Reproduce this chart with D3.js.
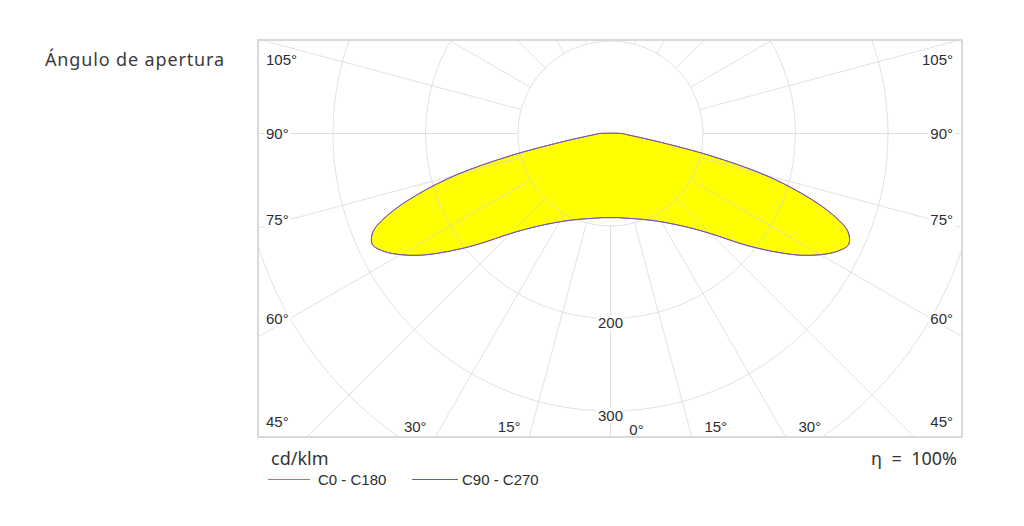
<!DOCTYPE html>
<html><head><meta charset="utf-8">
<script src="https://cdn.jsdelivr.net/npm/d3@7"></script>
<style>body{margin:0;background:#fff;overflow:hidden}</style>
</head><body>
<svg id="c" width="1024" height="526"></svg>
<script>
// ---- data ----
const gammaAngles  = [0, 5, 10, 15, 20, 25, 30, 35, 40, 45, 50, 52.5, 55, 57.5, 60, 62.5, 65, 67.5, 70, 72.5, 75, 77.5, 80, 82.5, 85, 87.5, 90];
const intensityC0  = [91, 91.3, 92.9, 95.3, 98.7, 103.5, 110.3, 119.7, 133, 153, 186, 205, 225, 245, 262, 276, 284, 278, 255, 218, 172, 110, 56, 31, 20, 15, 12];
const intensityC90 = [91, 91.3, 92.9, 95.3, 98.7, 103.5, 110.3, 119.7, 133, 153, 186, 205, 225, 245, 262, 276, 284, 278, 255, 218, 172, 110, 56, 31, 20, 15, 12];
const radialTicks = [100, 200, 300, 400];
const radialTickLabels = ["200", "300"];
const gridAngles = [0, 15, 30, 45, 60, 75, 90, 105, 120, 135, 150, 165, 180];
const sideLabelAngles = [45, 60, 75, 90, 105];
const bottomLabelAngles = [0, 15, 30];
const seriesNames = ["C0 - C180", "C90 - C270"];
const seriesColors = ["#e06060", "#5c5cc8"];
const titleText = "Ángulo de apertura";
const unitText = "cd/klm";
const etaText = "η = 100%";

// ---- layout ----
const svg = d3.select("#c");
const box = {x: 258, y: 40, w: 704, h: 397};
const cx = 610.5, cy = 133.5;
const r = d3.scaleLinear().domain([0, 100]).range([0, 92.5]);
const rad = d => d * Math.PI / 180;
const labelFont = "'Liberation Sans', Arial, sans-serif";
const textFont = "'Noto Sans', sans-serif";
const textColor = "#2e2e2e";

function fitLetters(sel, w) {
  const n = sel.text().length;
  const cur = sel.node().getComputedTextLength();
  sel.style("letter-spacing", ((w - cur) / n) + "px");
}
function fitWords(sel, w) {
  const n = sel.text().split(" ").length - 1;
  const cur = sel.node().getComputedTextLength();
  sel.style("word-spacing", ((w - cur) / n) + "px");
}

svg.append("defs").append("clipPath").attr("id", "bx")
  .append("rect").attr("x", box.x).attr("y", box.y).attr("width", box.w).attr("height", box.h);

// title
const title = svg.append("text").attr("x", 45).attr("y", 66)
  .style("font-family", textFont).style("font-size", "18px")
  .attr("fill", "#3c3c3c").text(titleText);
fitLetters(title, 180);

const plot = svg.append("g").attr("clip-path", "url(#bx)");
const g = plot.append("g").attr("transform", `translate(${cx},${cy})`);

// curve points: right side 90->0, left side 0->90 (lineRadial angle: 0 = up, clockwise)
function pts(vals) {
  const p = [];
  for (let i = gammaAngles.length - 1; i >= 0; i--) p.push({a: Math.PI - rad(gammaAngles[i]), v: vals[i]});
  for (let i = 1; i < gammaAngles.length; i++) p.push({a: Math.PI + rad(gammaAngles[i]), v: vals[i]});
  return p;
}
const line = d3.lineRadial().angle(d => d.a).radius(d => r(d.v)).curve(d3.curveCatmullRomClosed.alpha(0.5));
const series = [intensityC0, intensityC90];

// fills
series.forEach(s => g.append("path").attr("d", line(pts(s))).attr("fill", "#ffff00").attr("stroke", "none"));

// grid on top of fill, semi transparent
const grid = g.append("g").attr("fill", "none").attr("stroke", "#d4d4d4").attr("stroke-opacity", 0.7).attr("stroke-width", 1);
radialTicks.forEach(t => grid.append("circle").attr("r", r(t)));
gridAngles.forEach(a => {
  [1, -1].forEach(side => {
    if ((a === 0 || a === 180) && side === -1) return;
    const s = Math.sin(rad(a)) * side, c = Math.cos(rad(a));
    grid.append("line")
      .attr("x1", r(100) * s).attr("y1", r(100) * c)
      .attr("x2", r(700) * s).attr("y2", r(700) * c);
  });
});

// outlines
series.forEach((s, i) => g.append("path").attr("d", line(pts(s)))
  .attr("fill", "none").attr("stroke", seriesColors[i]).attr("stroke-width", 1));

// labels helper with white background
function label(x, y, txt, anchor) {
  const gg = svg.append("g");
  const bg = gg.append("rect").attr("fill", "#fff");
  const t = gg.append("text").attr("x", x).attr("y", y).attr("text-anchor", anchor)
    .attr("dominant-baseline", "central")
    .style("font-family", labelFont).style("font-size", "15px").attr("fill", textColor).text(txt);
  const b = t.node().getBBox();
  bg.attr("x", b.x - 2).attr("y", b.y + 1).attr("width", b.width + 4).attr("height", b.height - 2);
}

// radial value labels
radialTickLabels.forEach(l => label(cx, cy + r(+l) + 4, l, "middle"));

// side angle labels
sideLabelAngles.forEach(a => {
  const cot = Math.cos(rad(a)) / Math.sin(rad(a));
  let y = cy + (cx - 290) * cot;
  y = Math.max(59, Math.min(421, y));
  label(266, y, a + "°", "start");
  label(953, y, a + "°", "end");
});
// bottom angle labels
bottomLabelAngles.forEach(a => {
  const dx = (box.y + box.h - cy) * Math.tan(rad(a));
  if (a !== 0) label(cx - dx - 20, 426, a + "°", "middle");
  label(cx + dx + (a === 0 ? 26 : 24), a === 0 ? 429 : 426, a + "°", "middle");
});

// box border
svg.append("rect").attr("x", box.x).attr("y", box.y).attr("width", box.w).attr("height", box.h)
  .attr("fill", "none").attr("stroke", "#d9d9d9").attr("stroke-width", 2);

// unit + efficiency
svg.append("text").attr("x", 271).attr("y", 465)
  .style("font-family", textFont).style("font-size", "18px").attr("fill", "#333").text(unitText);
const eta = svg.append("text").attr("x", 957).attr("y", 465).attr("text-anchor", "end")
  .style("font-family", textFont).style("font-size", "18px").attr("fill", "#333").text(etaText);
fitWords(eta, 86);

// legend
const legX = [268, 412], legTextX = [318, 462];
seriesNames.forEach((n, i) => {
  svg.append("line").attr("x1", legX[i]).attr("x2", legX[i] + (i ? 46 : 42)).attr("y1", 479.5).attr("y2", 479.5)
    .attr("stroke", seriesColors[i]).attr("stroke-width", 1);
  svg.append("text").attr("x", legTextX[i]).attr("y", 479).attr("dominant-baseline", "central")
    .style("font-family", labelFont).style("font-size", "15px").attr("fill", textColor).text(n);
});
</script>
</body></html>
